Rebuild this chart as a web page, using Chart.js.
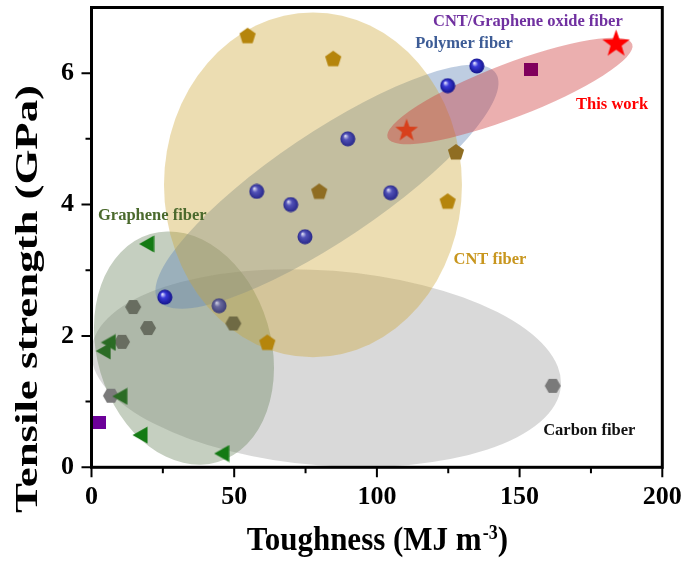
<!DOCTYPE html>
<html lang="en">
<head>
<meta charset="UTF-8">
<title>Tensile strength vs toughness</title>
<script src="https://cdn.jsdelivr.net/npm/chart.js"></script>
<style>
    html, body { margin: 0; padding: 0; background: #fff; }
</style>
</head>
<body>
<canvas id="fiberChart" width="688" height="562"></canvas>

<script>
    // toughness (MJ m^-3) / tensile strength (GPa) per fiber family
    const polymerX = [25.7, 44.7, 57.9, 69.8, 74.8, 89.8, 104.8, 124.8, 135.0];
    const polymerY = [2.59, 2.46, 4.20, 4.00, 3.51, 5.00, 4.18, 5.81, 6.11];
    const cntX = [54.7, 84.7, 79.8, 127.7, 124.8, 61.6];
    const cntY = [6.57, 6.22, 4.20, 4.80, 4.05, 1.90];
    const carbonX = [14.6, 19.8, 10.7, 6.8, 49.7, 161.6];
    const carbonY = [2.44, 2.12, 1.91, 1.09, 2.19, 1.24];
    const grapheneX = [19.3, 5.9, 4.1, 9.9, 17.0, 45.6];
    const grapheneY = [3.40, 1.90, 1.77, 1.08, 0.49, 0.21];
    const goX = [2.6, 153.9];
    const goY = [0.68, 6.06];
    const thisWorkX = [110.4, 183.8];
    const thisWorkY = [5.14, 6.46];

    const xTicks = [0, 50, 100, 150, 200];
    const yTicks = [0, 2, 4, 6];

    // shaded envelopes: centre and semi-axes in axis units, tilt in degrees
    const carbonZone = { x: 82.2, y: 1.51, rx: 82.5, ry: 1.485, angle: 4.4 };
    const grapheneZone = { x: 32.4, y: 1.815, rx: 30.5, ry: 1.81, angle: -16.5 };
    const polymerZone = { x: 82.5, y: 4.27, rx: 71.3, ry: 0.82, angle: -33.9 };
    const thisWorkZone = { x: 146.6, y: 5.73, rx: 45.9, ry: 0.41, angle: -21 };
    const cntZone = { x: 77.6, y: 4.30, rx: 52.2, ry: 2.625, angle: 0 };

    const notes = [
        { text: 'CNT/Graphene oxide fiber', x: 152.9, y: 6.78, color: '#7030A0' },
        { text: 'Polymer fiber', x: 130.5, y: 6.45, color: '#3D5C96' },
        { text: 'This work', x: 182.4, y: 5.52, color: '#FF0000' },
        { text: 'CNT fiber', x: 139.6, y: 3.16, color: '#C8961E' },
        { text: 'Carbon fiber', x: 174.4, y: 0.555, color: '#111111' },
        { text: 'Graphene fiber', x: 21.3, y: 3.83, color: '#4B6A2D' }
    ];

    const SERIF = '"Liberation Serif", "Times New Roman", serif';

    function pts(xs, ys) {
        return xs.map((x, i) => ({ x: x, y: ys[i] }));
    }

    // small canvases used as point styles
    function marker(w, h, paint) {
        const c = document.createElement('canvas');
        c.width = w;
        c.height = h;
        paint(c.getContext('2d'), w / 2, h / 2);
        return c;
    }

    function polygon(g, cx, cy, r, n, start) {
        g.beginPath();
        for (let i = 0; i < n; i++) {
            const a = start + i * 2 * Math.PI / n;
            g.lineTo(cx + r * Math.cos(a), cy + r * Math.sin(a));
        }
        g.closePath();
    }

    function sphere(hi, mid, edge) {
        return marker(16, 16, (g, cx, cy) => {
            const grad = g.createRadialGradient(cx - 2.5, cy - 3, 0.5, cx, cy, 7.5);
            grad.addColorStop(0, hi);
            grad.addColorStop(0.35, mid);
            grad.addColorStop(1, edge);
            g.fillStyle = grad;
            g.beginPath();
            g.arc(cx, cy, 7.5, 0, 2 * Math.PI);
            g.fill();
        });
    }

    function pentagon(color) {
        return marker(18, 18, (g, cx, cy) => {
            polygon(g, cx, cy + 0.5, 8.5, 5, -Math.PI / 2);
            g.fillStyle = color;
            g.fill();
        });
    }

    function hexagon(color) {
        return marker(18, 16, (g, cx, cy) => {
            polygon(g, cx, cy, 8, 6, 0);
            g.fillStyle = color;
            g.fill();
        });
    }

    function leftTriangle(color) {
        return marker(16, 18, (g, cx, cy) => {
            g.beginPath();
            g.moveTo(cx - 7.5, cy);
            g.lineTo(cx + 7.5, cy - 8.5);
            g.lineTo(cx + 7.5, cy + 8.5);
            g.closePath();
            g.fillStyle = color;
            g.fill();
        });
    }

    function square(color) {
        return marker(14, 13, (g) => {
            g.fillStyle = color;
            g.fillRect(0, 0, 14, 13);
        });
    }

    function star(r, color) {
        const s = Math.ceil(2 * r + 2);
        return marker(s, s, (g, cx, cy) => {
            g.beginPath();
            for (let i = 0; i < 10; i++) {
                const a = -Math.PI / 2 + i * Math.PI / 5;
                const rr = i % 2 ? r * 0.4 : r;
                g.lineTo(cx + rr * Math.cos(a), cy + rr * Math.sin(a) + 1);
            }
            g.closePath();
            g.fillStyle = color;
            g.fill();
        });
    }

    const ballBright = sphere('#dcdcff', '#3a3ad8', '#14148c');
    const ballSoft = sphere('#d4d4f0', '#5252b8', '#28288a');
    const ballDim = sphere('#c8c8dc', '#6a6a9e', '#3e3e78');
    const penGold = pentagon('#b5850c');
    const penDark = pentagon('#8f6d22');
    const hexGrey = hexagon('#7a7a7a');
    const hexMoss = hexagon('#686d60');
    const hexOlive = hexagon('#6f6a44');
    const triBright = leftTriangle('#147a14');
    const triDark = leftTriangle('#2b6c25');

    function drawZone(chart, z, fill) {
        const { ctx, chartArea: area, scales: { x, y } } = chart;
        const cx = x.getPixelForValue(z.x);
        const cy = y.getPixelForValue(z.y);
        const rx = x.getPixelForValue(z.x + z.rx) - cx;
        const ry = cy - y.getPixelForValue(z.y + z.ry);
        ctx.save();
        ctx.beginPath();
        ctx.rect(area.left, area.top, area.right - area.left, area.bottom - area.top);
        ctx.clip();
        ctx.beginPath();
        ctx.ellipse(cx, cy, rx, ry, z.angle * Math.PI / 180, 0, 2 * Math.PI);
        ctx.fillStyle = fill;
        ctx.fill();
        ctx.restore();
    }

    const zones = {
        id: 'zones',
        beforeDatasetsDraw(chart) {
            drawZone(chart, carbonZone, 'rgba(160,160,160,0.4)');
            drawZone(chart, grapheneZone, 'rgba(110,135,98,0.4)');
            drawZone(chart, polymerZone, 'rgba(92,130,180,0.4)');
            drawZone(chart, cntZone, 'rgba(205,165,52,0.38)');
            drawZone(chart, thisWorkZone, 'rgba(205,55,55,0.4)');
        },
        afterDatasetsDraw(chart) {
            const { ctx, scales: { x, y } } = chart;
            ctx.save();
            ctx.font = 'bold 16.5px ' + SERIF;
            ctx.textAlign = 'center';
            ctx.textBaseline = 'middle';
            notes.forEach(n => {
                ctx.fillStyle = n.color;
                ctx.fillText(n.text, x.getPixelForValue(n.x), y.getPixelForValue(n.y));
            });
            ctx.restore();
        }
    };

    // box frame, tick marks and axis titles
    const frame = {
        id: 'frame',
        afterDraw(chart) {
            const { ctx, chartArea: a, scales: { x, y } } = chart;
            ctx.save();
            ctx.strokeStyle = '#000';
            ctx.lineWidth = 3;
            ctx.strokeRect(a.left, a.top, a.right - a.left, a.bottom - a.top);

            ctx.lineWidth = 2;
            ctx.beginPath();
            xTicks.forEach((v, i) => {
                const px = x.getPixelForValue(v);
                ctx.moveTo(px, a.bottom);
                ctx.lineTo(px, a.bottom + 10);
                if (i < xTicks.length - 1) {
                    const pm = x.getPixelForValue((v + xTicks[i + 1]) / 2);
                    ctx.moveTo(pm, a.bottom);
                    ctx.lineTo(pm, a.bottom + 6);
                }
            });
            yTicks.forEach((v, i) => {
                const py = y.getPixelForValue(v);
                ctx.moveTo(a.left, py);
                ctx.lineTo(a.left - 10, py);
                const next = i < yTicks.length - 1 ? yTicks[i + 1] : v + 2;
                const mid = (v + next) / 2;
                if (mid < y.max) {
                    const pm = y.getPixelForValue(mid);
                    ctx.moveTo(a.left, pm);
                    ctx.lineTo(a.left - 6, pm);
                }
            });
            ctx.stroke();

            ctx.fillStyle = '#000';
            ctx.textAlign = 'left';
            ctx.textBaseline = 'alphabetic';

            // x title with superscript
            const main = 'Toughness (MJ m', sup = '-3', tail = ')';
            ctx.font = 'bold 31px ' + SERIF;
            const w1 = ctx.measureText(main).width;
            const w3 = ctx.measureText(tail).width;
            ctx.font = 'bold 18px ' + SERIF;
            const w2 = ctx.measureText(sup).width;
            const total = w1 + w2 + w3;
            ctx.save();
            ctx.translate((a.left + a.right) / 2 - total / 2, 550);
            ctx.scale(1, 1.12);
            ctx.font = 'bold 31px ' + SERIF;
            ctx.fillText(main, 0, 0);
            ctx.font = 'bold 18px ' + SERIF;
            ctx.fillText(sup, w1 + 1, -10);
            ctx.font = 'bold 31px ' + SERIF;
            ctx.fillText(tail, w1 + w2 + 1, 0);
            ctx.restore();

            // y title, rotated
            const yTitle = 'Tensile strength (GPa)';
            ctx.font = 'bold 31px ' + SERIF;
            const wy = ctx.measureText(yTitle).width;
            const stretch = 428 / wy;
            ctx.save();
            ctx.translate(37, 299);
            ctx.rotate(-Math.PI / 2);
            ctx.scale(stretch, 1);
            ctx.textAlign = 'center';
            ctx.fillText(yTitle, 0, 0);
            ctx.restore();

            ctx.restore();
        }
    };

    const ctx = document.getElementById('fiberChart').getContext('2d');
    const fiberChart = new Chart(ctx, {
        type: 'scatter',
        data: {
            datasets: [
                { label: 'This work', data: pts(thisWorkX, thisWorkY),
                  pointStyle: [star(12, '#d8401c'), star(14.5, '#ff0000')] },
                { label: 'CNT/Graphene oxide fiber', data: pts(goX, goY),
                  pointStyle: [square('#6c0099'), square('#80005c')] },
                { label: 'Polymer fiber', data: pts(polymerX, polymerY),
                  pointStyle: [ballBright, ballDim, ballSoft, ballSoft, ballSoft, ballSoft, ballSoft, ballBright, ballBright] },
                { label: 'Graphene fiber', data: pts(grapheneX, grapheneY),
                  pointStyle: [triBright, triDark, triDark, triDark, triBright, triBright] },
                { label: 'CNT fiber', data: pts(cntX, cntY),
                  pointStyle: [penGold, penGold, penDark, penDark, penGold, penGold] },
                { label: 'Carbon fiber', data: pts(carbonX, carbonY),
                  pointStyle: [hexMoss, hexMoss, hexMoss, hexGrey, hexOlive, hexGrey] }
            ]
        },
        options: {
            responsive: false,
            devicePixelRatio: 1,
            animation: false,
            events: [],
            layout: { padding: { top: 7.5, right: 25.7, left: 0, bottom: 0 } },
            plugins: { legend: { display: false }, tooltip: { enabled: false } },
            scales: {
                x: {
                    min: 0,
                    max: 200,
                    grid: { display: false, drawTicks: false },
                    border: { display: false },
                    afterFit: s => {
                        s.height = 94.7;
                        s.paddingLeft = 0;
                        s.paddingRight = 0;
                    },
                    afterBuildTicks: s => { s.ticks = xTicks.map(v => ({ value: v })); },
                    ticks: {
                        padding: 14,
                        color: '#000',
                        maxRotation: 0,
                        font: { family: SERIF, size: 26, weight: 'bold' }
                    }
                },
                y: {
                    min: 0,
                    max: 7,
                    grid: { display: false, drawTicks: false },
                    border: { display: false },
                    afterFit: s => {
                        s.width = 91.5;
                        s.paddingTop = 0;
                        s.paddingBottom = 0;
                    },
                    afterBuildTicks: s => { s.ticks = yTicks.map(v => ({ value: v })); },
                    ticks: {
                        padding: 17.5,
                        color: '#000',
                        font: { family: SERIF, size: 26, weight: 'bold' }
                    }
                }
            }
        },
        plugins: [zones, frame]
    });
</script>
</body>
</html>
